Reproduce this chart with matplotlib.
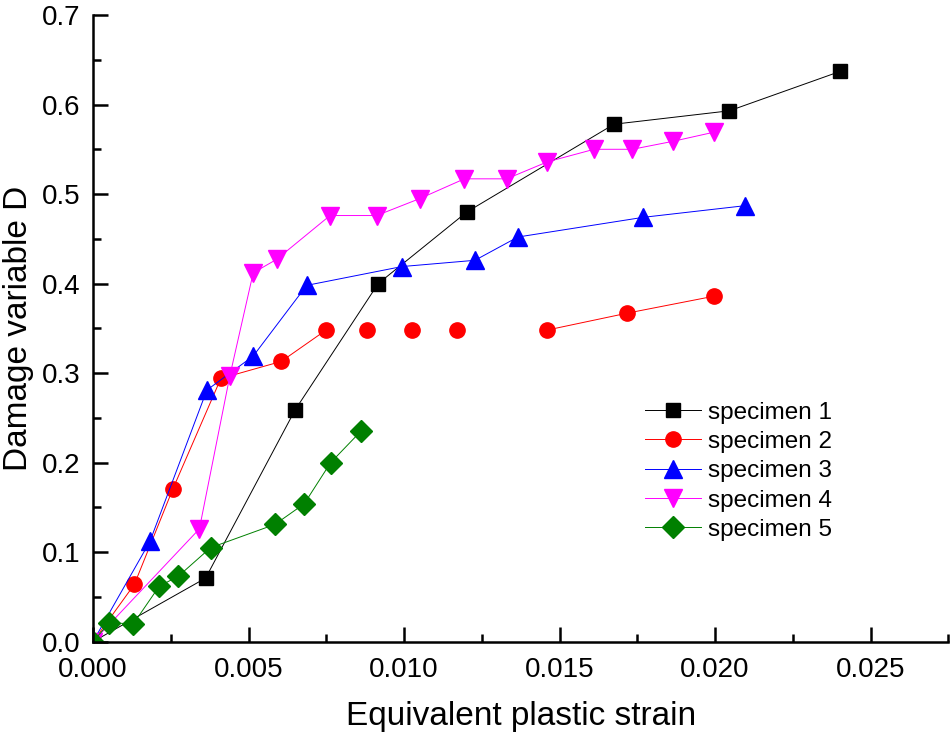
import matplotlib
matplotlib.use('Agg')
import matplotlib.pyplot as plt
from matplotlib.ticker import MultipleLocator, FormatStrFormatter

plt.rcParams['font.family'] = ['Liberation Sans', 'DejaVu Sans']

# specimen 1
x1 = [0.0, 0.00362, 0.00650, 0.00917, 0.01202, 0.01675, 0.02046, 0.02402]
y1 = [0.0, 0.071, 0.259, 0.400, 0.480, 0.578, 0.593, 0.637]
# specimen 2
x2 = [0.0, 0.00133, 0.00256, 0.00411, 0.00605, 0.00749, 0.0088, 0.01027,
      0.01169, 0.01459, 0.01718, 0.01998]
y2 = [0.0, 0.064, 0.170, 0.294, 0.313, 0.348, 0.348, 0.348,
      0.348, 0.348, 0.367, 0.386]
# specimen 3
x3 = [0.0, 0.00183, 0.00366, 0.00515, 0.00687, 0.00993, 0.01228, 0.01366,
      0.01769, 0.02096]
y3 = [0.0, 0.112, 0.281, 0.319, 0.398, 0.419, 0.426, 0.452, 0.474, 0.487]
# specimen 4
x4 = [0.0, 0.00342, 0.0044, 0.00515, 0.0059, 0.00762, 0.00912, 0.01051,
      0.01194, 0.0133, 0.01461, 0.01611, 0.01734, 0.01866, 0.01995]
y4 = [0.0, 0.126, 0.297, 0.412, 0.427, 0.476, 0.476, 0.495,
      0.517, 0.517, 0.536, 0.550, 0.550, 0.559, 0.569]
# specimen 5
x5 = [0.0, 0.00052, 0.0013, 0.00213, 0.00274, 0.00378, 0.00585, 0.00679,
      0.00764, 0.00861]
y5 = [0.0, 0.021, 0.020, 0.062, 0.073, 0.105, 0.131, 0.154, 0.200, 0.235]

fig = plt.figure(figsize=(9.52, 7.39), dpi=100)
ax = fig.add_axes([0.0977, 0.1317, 0.8985, 0.848])

ax.plot(x1, y1, color='black', lw=0.7, marker='s', ms=10, label='specimen 1')
# red line is broken in the middle
ax.plot(x2[:6], y2[:6], color='red', lw=0.7)
ax.plot(x2[9:], y2[9:], color='red', lw=0.7)
ax.plot(x2, y2, color='red', lw=0.7, ls='none', marker='o', ms=11)
ax.plot([], [], color='red', lw=0.7, marker='o', ms=11, label='specimen 2')
ax.plot(x3, y3, color='blue', lw=0.7, marker='^', ms=13, label='specimen 3')
ax.plot(x4, y4, color='magenta', lw=0.7, marker='v', ms=13, label='specimen 4')
ax.plot(x5, y5, color='green', lw=0.7, marker='D', ms=11, label='specimen 5')

ax.set_xlim(0, 0.0275)
ax.set_ylim(0, 0.7)
ax.xaxis.set_major_locator(MultipleLocator(0.005))
ax.xaxis.set_minor_locator(MultipleLocator(0.0025))
ax.yaxis.set_major_locator(MultipleLocator(0.1))
ax.yaxis.set_minor_locator(MultipleLocator(0.05))
ax.xaxis.set_major_formatter(FormatStrFormatter('%.3f'))
ax.yaxis.set_major_formatter(FormatStrFormatter('%.1f'))

for s in ['top', 'right']:
    ax.spines[s].set_visible(False)
for s in ['left', 'bottom']:
    ax.spines[s].set_linewidth(1.8)
ax.tick_params(which='both', direction='in', width=1.8, labelsize=20)
ax.tick_params(axis='x', pad=11)
ax.tick_params(axis='y', pad=9)
ax.tick_params(which='major', length=11)
ax.tick_params(which='minor', length=6)

ax.set_xlabel('Equivalent plastic strain', fontsize=24, labelpad=13)
ax.set_ylabel('Damage variable D', fontsize=24, labelpad=6)

ax.legend(loc='center left', bbox_to_anchor=(0.62, 0.272), frameon=False,
          fontsize=17.5, handlelength=2.3, labelspacing=0.3, handletextpad=0.3)

fig.savefig('out.png', dpi=100)
